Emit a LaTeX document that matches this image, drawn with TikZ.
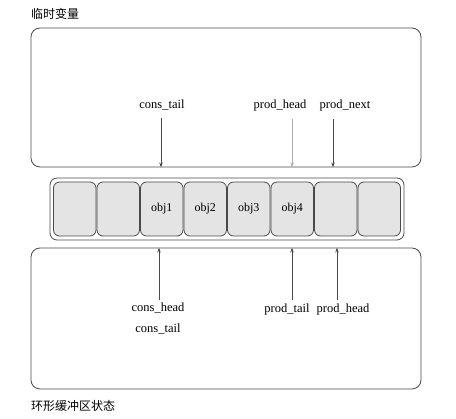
\documentclass[tikz,border=0pt]{standalone}
\usepackage{fontspec}
\setmainfont{Liberation Serif}
\newfontfamily\cjk{Noto Sans CJK SC}
\usetikzlibrary{arrows.meta}
\definecolor{linec}{HTML}{4A4A4A}
\definecolor{cellc}{HTML}{E4E4E4}
\begin{document}
\begin{tikzpicture}[x=1pt,y=-1pt,
  panel/.style={draw=linec,line width=0.8pt,rounded corners=9pt},
  ring/.style={draw=linec,line width=0.8pt,rounded corners=7pt},
  cellbox/.style={draw=linec,line width=0.8pt,fill=cellc,rounded corners=6pt,minimum width=42.5pt,minimum height=54pt,inner sep=0pt,anchor=center,font=\fontsize{12}{14}\selectfont},
  lbl/.style={font=\fontsize{12.5}{14}\selectfont,inner sep=1pt},
  captext/.style={font=\cjk\fontsize{12}{14}\selectfont,inner sep=0pt,anchor=west},
  arr/.style={draw=linec,line width=0.8pt,-{Stealth[length=5pt,width=3.5pt]}}]
\useasboundingbox (0,0) rectangle (456,419);
% panels
\node[panel,minimum width=390pt,minimum height=139pt,inner sep=0pt] (top) at (226,97.5) {};
\node[panel,minimum width=390pt,minimum height=141pt,inner sep=0pt] (bot) at (226,318.5) {};
\node[ring,minimum width=354pt,minimum height=62pt,inner sep=0pt] (ring) at (227,209) {};
% cells
\node[cellbox] (c1) at (74.75,209) {};
\node[cellbox] (c2) at (118.25,209) {};
\node[cellbox] (c3) at (161.75,209) {obj1};
\node[cellbox] (c4) at (205.25,209) {obj2};
\node[cellbox] (c5) at (248.75,209) {obj3};
\node[cellbox] (c6) at (292.25,209) {obj4};
\node[cellbox] (c7) at (335.75,209) {};
\node[cellbox] (c8) at (379.25,209) {};
% captions
\node[captext] (t1) at (31,14) {临时变量};
\node[captext] (t2) at (31,406) {环形缓冲区状态};
% top labels
\node[lbl] (ctail) at (162,105) {cons\_tail};
\node[lbl] (phead) at (280,105) {prod\_head};
\node[lbl] (pnext) at (345,105) {prod\_next};
\coordinate (a1) at (161,118);
\coordinate (a2) at (292,119);
\coordinate (a3) at (333,119);
\draw[arr] (a1) -- (a1 |- top.south);
\draw[arr,draw=linec!45] (a2) -- (a2 |- top.south);
\draw[arr] (a3) -- (a3 |- top.south);
% bottom labels
\node[lbl] (chead) at (158,308) {cons\_head};
\node[lbl] (ctail2) at (158,329) {cons\_tail};
\node[lbl] (ptail) at (287,309) {prod\_tail};
\node[lbl] (phead2) at (343,309) {prod\_head};
\coordinate (b1) at (159,300);
\coordinate (b2) at (292,300);
\coordinate (b3) at (337,300);
\draw[arr] (b1) -- (b1 |- bot.north);
\draw[arr] (b2) -- (b2 |- bot.north);
\draw[arr] (b3) -- (b3 |- bot.north);
\end{tikzpicture}
\end{document}
